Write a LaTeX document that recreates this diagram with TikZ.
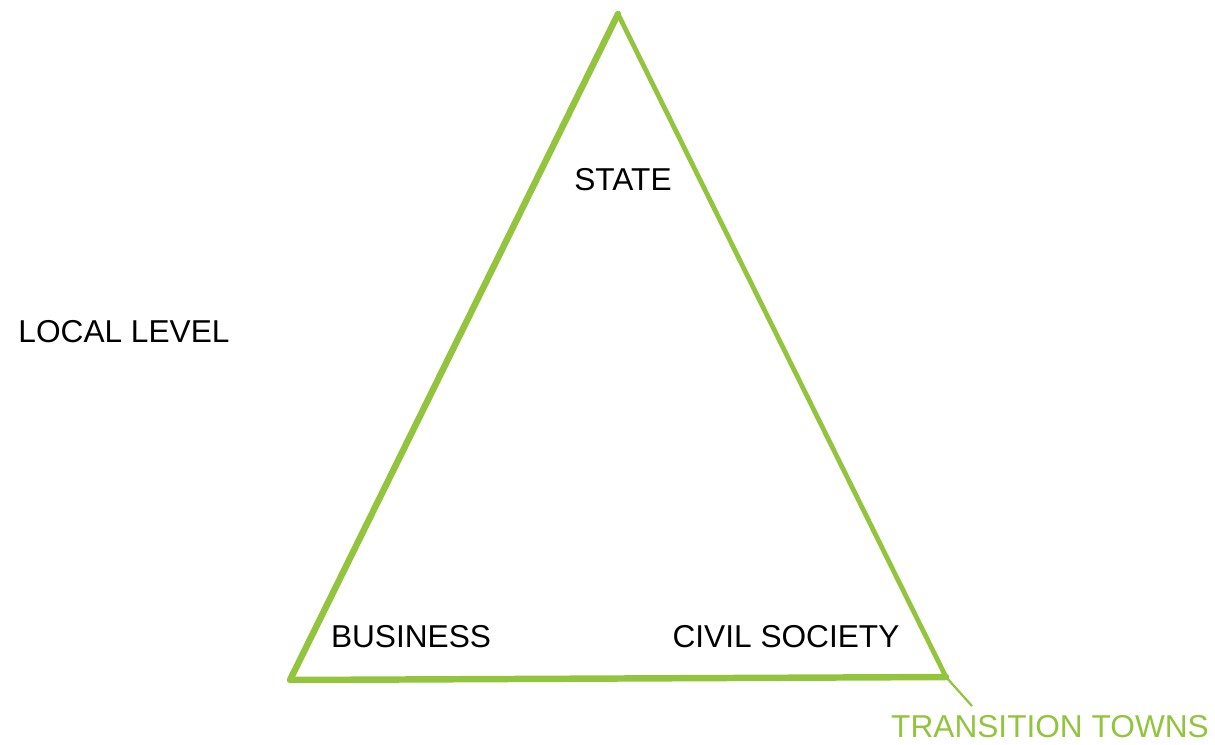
\documentclass[tikz,border=0pt]{standalone}
\usepackage{fontspec}
\setmainfont{Liberation Sans}
\definecolor{ttgreen}{RGB}{146,196,61}
\tikzset{
	label/.style={font=\fontsize{22.5}{26}\selectfont, inner sep=0pt},
	greenlabel/.style={label, text=ttgreen},
	edge/.style={draw=ttgreen, line width=4.6pt, line join=round, line cap=round},
	thinedge/.style={edge, line width=3.4pt}
}
\begin{document}
\begin{tikzpicture}[x=0.025cm, y=-0.025cm]
\useasboundingbox (0,0) rectangle (1215,744);
% Ecken
\coordinate (top) at (618,14);
\coordinate (bl) at (290,680);
\coordinate (br) at (946,677);
\coordinate (ptr) at (972,706);
% Dreieck
\draw[thinedge] (top) -- (br);
\draw[edge] (br) -- (bl) -- (top);
% Beschriftungen
\node[label] (state) at (623,180) {STATE};
\node[label] (business) at (411,637) {BUSINESS};
\node[label] (civil) at (786,637) {CIVIL SOCIETY};
\node[label] (local) at (124,332) {LOCAL LEVEL};
\node[greenlabel] (towns) at (1050,727) {TRANSITION TOWNS};
% Zeiger
\draw[ttgreen, line width=1.6pt] (br) -- (ptr);
\end{tikzpicture}
\end{document}
